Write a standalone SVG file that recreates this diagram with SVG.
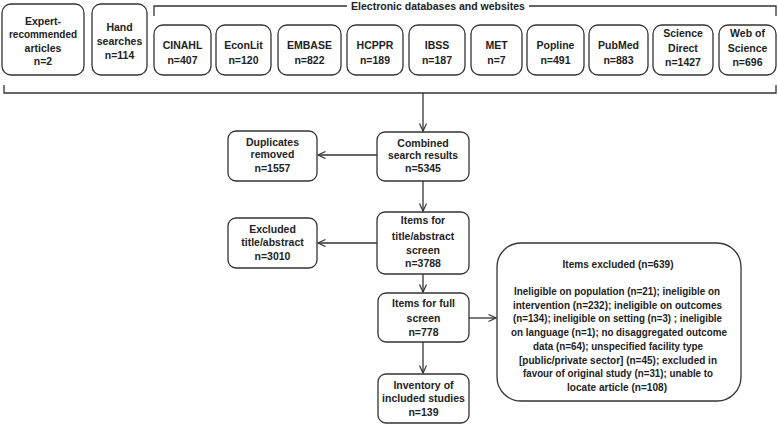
<svg xmlns="http://www.w3.org/2000/svg" width="778" height="425" viewBox="0 0 778 425">
<defs>
<marker id="arr" markerWidth="10" markerHeight="10" refX="8" refY="4" orient="auto" markerUnits="userSpaceOnUse">
<path d="M0.5,0.5 L8,4 L0.5,7.5" fill="none" stroke="#333" stroke-width="1.2"/>
</marker>
</defs>
<style>
rect{fill:#fff;stroke:#333;stroke-width:1.3}
text{font-family:"Liberation Sans",Arial,sans-serif;font-weight:bold;font-size:10.5px;fill:#222;text-anchor:middle}
.c line,.c polyline{stroke:#333;stroke-width:1.3;fill:none}
.p{font-size:10.5px}
</style>
<rect width="778" height="425" style="fill:#fff;stroke:none"/>
<g id="expert"><rect x="2" y="4" width="82" height="71" rx="9"/>
<text x="43" y="24.5">Expert-</text><text x="43" y="38" textLength="68" lengthAdjust="spacingAndGlyphs">recommended</text><text x="43" y="51.5">articles</text><text x="43" y="65">n=2</text></g>
<g id="hand"><rect x="92" y="4" width="55" height="71" rx="9"/>
<text x="119.5" y="30.5">Hand</text><text x="119.5" y="44.5">searches</text><text x="119.5" y="58.5">n=114</text></g>
<g id="electronic-title"><text x="438" y="10">Electronic databases and websites</text></g>
<g id="cinahl"><rect x="154" y="25" width="57" height="50" rx="9"/><text x="182.5" y="48.5">CINAHL</text><text x="182.5" y="63.5">n=407</text></g>
<g id="econlit"><rect x="216" y="25" width="55" height="50" rx="9"/><text x="243.5" y="48.5">EconLit</text><text x="243.5" y="63.5">n=120</text></g>
<g id="embase"><rect x="278" y="25" width="63" height="50" rx="9"/><text x="309.5" y="48.5">EMBASE</text><text x="309.5" y="63.5">n=822</text></g>
<g id="hcppr"><rect x="347" y="25" width="56" height="50" rx="9"/><text x="375" y="48.5">HCPPR</text><text x="375" y="63.5">n=189</text></g>
<g id="ibss"><rect x="409" y="25" width="56" height="50" rx="9"/><text x="437" y="48.5">IBSS</text><text x="437" y="63.5">n=187</text></g>
<g id="met"><rect x="471" y="25" width="51" height="50" rx="9"/><text x="496.5" y="48.5">MET</text><text x="496.5" y="63.5">n=7</text></g>
<g id="popline"><rect x="527" y="25" width="57" height="50" rx="9"/><text x="555.5" y="48.5">Popline</text><text x="555.5" y="63.5">n=491</text></g>
<g id="pubmed"><rect x="589" y="25" width="59" height="50" rx="9"/><text x="618.5" y="48.5">PubMed</text><text x="618.5" y="63.5">n=883</text></g>
<g id="sciencedirect"><rect x="653" y="25" width="60" height="50" rx="9"/><text x="683" y="37">Science</text><text x="683" y="51.5">Direct</text><text x="683" y="66">n=1427</text></g>
<g id="webofscience"><rect x="719" y="25" width="57" height="50" rx="9"/><text x="747.5" y="37">Web of</text><text x="747.5" y="51.5">Science</text><text x="747.5" y="66">n=696</text></g>
<g id="duplicates"><rect x="228" y="131" width="89" height="50" rx="8"/><text x="272.5" y="145.5">Duplicates</text><text x="272.5" y="158">removed</text><text x="272.5" y="171.5">n=1557</text></g>
<g id="combined"><rect x="377" y="132" width="92" height="49" rx="8"/><text x="423" y="146.5">Combined</text><text x="423" y="159" textLength="70" lengthAdjust="spacingAndGlyphs">search results</text><text x="423" y="171.5">n=5345</text></g>
<g id="excluded-ta"><rect x="228" y="218" width="89" height="50" rx="8"/><text x="272.5" y="232.5">Excluded</text><text x="272.5" y="246">title/abstract</text><text x="272.5" y="259.5">n=3010</text></g>
<g id="items-ta"><rect x="377" y="212" width="92" height="62" rx="8"/><text x="423" y="223.5">Items for</text><text x="423" y="239.5">title/abstract</text><text x="423" y="253.5">screen</text><text x="423" y="266.5">n=3788</text></g>
<g id="items-full"><rect x="378" y="293" width="91" height="49" rx="8"/><text x="423.5" y="306.5">Items for full</text><text x="423.5" y="321.5">screen</text><text x="423.5" y="335.5">n=778</text></g>
<g id="inventory"><rect x="378" y="374" width="91" height="49" rx="8"/><text x="423.5" y="388.5">Inventory of</text><text x="423.5" y="401.5">included studies</text><text x="423.5" y="415.5">n=139</text></g>
<g id="items-excluded"><rect x="497" y="243" width="244" height="158" rx="24"/>
<text x="618" y="268" class="p" textLength="111" lengthAdjust="spacingAndGlyphs">Items excluded (n=639)</text>
<text x="617" y="295" class="p" textLength="206" lengthAdjust="spacingAndGlyphs">Ineligible on population (n=21); ineligible on</text>
<text x="617.5" y="308.7" class="p" textLength="209" lengthAdjust="spacingAndGlyphs">intervention (n=232); ineligible on outcomes</text>
<text x="617.5" y="322.4" class="p" textLength="209" lengthAdjust="spacingAndGlyphs">(n=134); ineligible on setting (n=3) ; ineligible</text>
<text x="619" y="336.1" class="p" textLength="216" lengthAdjust="spacingAndGlyphs">on language (n=1); no disaggregated outcome</text>
<text x="618" y="349.8" class="p" textLength="170" lengthAdjust="spacingAndGlyphs">data (n=64); unspecified facility type</text>
<text x="618" y="363.5" class="p" textLength="198" lengthAdjust="spacingAndGlyphs">[public/private sector] (n=45); excluded in</text>
<text x="618" y="377.2" class="p" textLength="190" lengthAdjust="spacingAndGlyphs">favour of original study (n=31); unable to</text>
<text x="617" y="390.9" class="p" textLength="100" lengthAdjust="spacingAndGlyphs">locate article (n=108)</text>
</g>
<g id="connectors" class="c">
<polyline points="154,16 154,6 347,6"/>
<polyline points="529,6 776,6 776,16"/>
<polyline points="4,85 4,93 776,93 776,85"/>
<line x1="423" y1="93" x2="423" y2="131" marker-end="url(#arr)"/>
<line x1="377" y1="155" x2="318" y2="155" marker-end="url(#arr)"/>
<line x1="423" y1="181" x2="423" y2="211" marker-end="url(#arr)"/>
<line x1="377" y1="243" x2="318" y2="243" marker-end="url(#arr)"/>
<line x1="423" y1="274" x2="423" y2="292" marker-end="url(#arr)"/>
<line x1="469" y1="318" x2="496" y2="318" marker-end="url(#arr)"/>
<line x1="423" y1="342" x2="423" y2="373" marker-end="url(#arr)"/>
</g>
</svg>
